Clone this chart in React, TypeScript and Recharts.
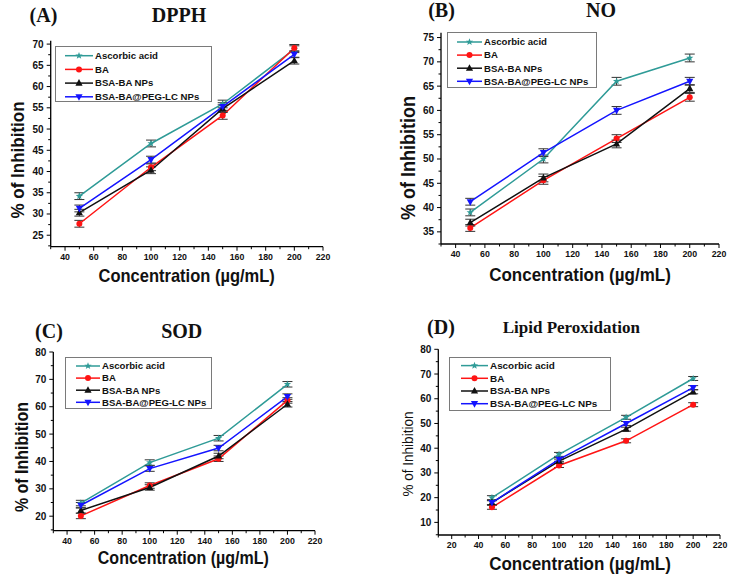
import React from 'react';
import { LineChart, Line, XAxis, YAxis, ErrorBar, Legend } from 'recharts';

// concentrations (µg/mL)
const conc = [50, 100, 150, 200];

// DPPH
const dpphAscorbic = [34.2, 46.6, 55.9, 68.8];
const dpphBA = [27.7, 41.0, 53.2, 69.1];
const dpphBsaBa = [30.3, 40.3, 54.8, 66.1];
const dpphPeg = [31.3, 42.8, 55.3, 67.6];
const dpphErr = [0.8, 0.8, 0.9, 0.8];

// NO
const noAscorbic = [39.0, 50.0, 66.0, 70.8];
const noBA = [35.8, 45.6, 54.2, 62.7];
const noBsaBa = [36.9, 46.1, 53.1, 64.5];
const noPeg = [41.2, 51.3, 60.0, 66.0];
const noErr = [0.7, 0.8, 0.8, 0.8];

// SOD
const sodAscorbic = [24.8, 39.6, 48.5, 68.2];
const sodBA = [20.1, 31.2, 41.0, 62.3];
const sodBsaBa = [22.1, 30.5, 42.0, 60.9];
const sodPeg = [24.0, 37.4, 44.9, 63.7];
const sodErr = [1.0, 1.0, 1.0, 1.0];

// Lipid peroxidation
const lpoAscorbic = [20.0, 37.5, 52.5, 68.2];
const lpoBA = [16.1, 33.0, 43.0, 57.6];
const lpoBsaBa = [18.0, 34.8, 47.7, 62.8];
const lpoPeg = [18.0, 35.5, 50.0, 64.5];
const lpoErr = [0.8, 0.8, 0.8, 0.8];

const seriesNames = ['Ascorbic acid', 'BA', 'BSA-BA NPs', 'BSA-BA@PEG-LC NPs'];
const seriesColors = ['#2f9b97', '#ff1414', '#111111', '#1414ff'];
const seriesShapes = ['star', 'circle', 'triangle', 'triangleDown'];

// axis ticks
const xTicksA = [30, 40, 50, 60, 70, 80, 90, 100, 110, 120, 130, 140, 150, 160, 170, 180, 190, 200, 210, 220];
const xMajorA = [40, 60, 80, 100, 120, 140, 160, 180, 200, 220];
const xTicksD = [10, 20, 30, 40, 50, 60, 70, 80, 90, 100, 110, 120, 130, 140, 150, 160, 170, 180, 190, 200, 210, 220];
const xMajorD = [20, 40, 60, 80, 100, 120, 140, 160, 180, 200, 220];
const yTicksDpph = [22.5, 25, 27.5, 30, 32.5, 35, 37.5, 40, 42.5, 45, 47.5, 50, 52.5, 55, 57.5, 60, 62.5, 65, 67.5, 70];
const yMajorDpph = [25, 30, 35, 40, 45, 50, 55, 60, 65, 70];
const yTicksNo = [32.5, 35, 37.5, 40, 42.5, 45, 47.5, 50, 52.5, 55, 57.5, 60, 62.5, 65, 67.5, 70, 72.5, 75];
const yMajorNo = [35, 40, 45, 50, 55, 60, 65, 70, 75];
const yTicksSod = [15, 20, 25, 30, 35, 40, 45, 50, 55, 60, 65, 70, 75, 80];
const yMajorSod = [20, 30, 40, 50, 60, 70, 80];
const yTicksLpo = [5, 10, 15, 20, 25, 30, 35, 40, 45, 50, 55, 60, 65, 70, 75, 80];
const yMajorLpo = [10, 20, 30, 40, 50, 60, 70, 80];

const SANS = '"Liberation Sans", Arial, sans-serif';
const SERIF = '"Liberation Serif", "Times New Roman", serif';

const buildRows = (vals: number[][], err: number[]) =>
  conc.map((c, i) => ({ conc: c, s0: vals[0][i], s1: vals[1][i], s2: vals[2][i], s3: vals[3][i], err: err[i] }));

function Marker({ shape, cx, cy, color }: { shape: string; cx: number; cy: number; color: string }) {
  if (cx == null || cy == null) return null;
  if (shape === 'circle') return <circle cx={cx} cy={cy} r={3} fill={color} />;
  if (shape === 'triangle')
    return <polygon points={`${cx},${cy - 4} ${cx - 3.6},${cy + 2.6} ${cx + 3.6},${cy + 2.6}`} fill={color} />;
  if (shape === 'triangleDown')
    return <polygon points={`${cx},${cy + 4} ${cx - 3.6},${cy - 2.6} ${cx + 3.6},${cy - 2.6}`} fill={color} />;
  const pts: string[] = [];
  for (let i = 0; i < 10; i++) {
    const r = i % 2 === 0 ? 3.8 : 1.6;
    const a = -Math.PI / 2 + (i * Math.PI) / 5;
    pts.push(`${cx + r * Math.cos(a)},${cy + r * Math.sin(a)}`);
  }
  return <polygon points={pts.join(' ')} fill={color} />;
}

const makeXTick = (majors: number[]) => (p: any) => {
  const v = p.payload.value;
  const major = majors.includes(v);
  return (
    <g>
      <line x1={p.x} x2={p.x} y1={p.y} y2={p.y + (major ? 4 : 2.5)} stroke="#000" strokeWidth={1} />
      {major && (
        <text x={p.x} y={p.y + 13} textAnchor="middle" fontSize={8.8} fontWeight="bold" fontFamily={SANS} fill="#111">
          {v}
        </text>
      )}
    </g>
  );
};

const makeYTick = (majors: number[]) => (p: any) => {
  const v = p.payload.value;
  const major = majors.includes(v);
  return (
    <g>
      <line x1={p.x} x2={p.x - (major ? 4 : 2.5)} y1={p.y} y2={p.y} stroke="#000" strokeWidth={1} />
      {major && (
        <text x={p.x - 7} y={p.y} dy="0.35em" textAnchor="end" fontSize={10} fontWeight="bold" fontFamily={SANS} fill="#111">
          {v}
        </text>
      )}
    </g>
  );
};

type LegendCfg = { x: number; y: number; w: number; h: number; row0: number; gap: number; l0: number; l1: number; tx: number; fs: number };

function LegendBox({ cfg }: { cfg: LegendCfg }) {
  return (
    <svg width={cfg.w} height={cfg.h} style={{ display: 'block' }}>
      <rect x={0.5} y={0.5} width={cfg.w - 1} height={cfg.h - 1} fill="#fff" stroke="#7a7a7a" />
      {seriesNames.map((name, i) => {
        const y = cfg.row0 + i * cfg.gap;
        return (
          <g key={name}>
            <line x1={cfg.l0} x2={cfg.l1} y1={y} y2={y} stroke={seriesColors[i]} strokeWidth={1.5} />
            <Marker shape={seriesShapes[i]} cx={(cfg.l0 + cfg.l1) / 2} cy={y} color={seriesColors[i]} />
            <text x={cfg.tx} y={y} dy="0.35em" fontSize={cfg.fs} fontWeight="bold" fontFamily={SANS} fill="#111">
              {name}
            </text>
          </g>
        );
      })}
    </svg>
  );
}

type PanelProps = {
  left: number;
  top: number;
  height: number;
  margin: { top: number; right: number; bottom: number; left: number };
  rows: any[];
  xDomain: [number, number];
  xTicks: number[];
  xMajor: number[];
  yDomain: [number, number];
  yTicks: number[];
  yMajor: number[];
  legend: LegendCfg;
};

function Panel({ left, top, height, margin, rows, xDomain, xTicks, xMajor, yDomain, yTicks, yMajor, legend }: PanelProps) {
  return (
    <div style={{ position: 'absolute', left, top }}>
      <LineChart width={365} height={height} data={rows} margin={margin}>
        <XAxis
          type="number"
          dataKey="conc"
          domain={xDomain}
          ticks={xTicks}
          interval={0}
          allowDataOverflow
          height={30}
          tickSize={0}
          tickMargin={0}
          tickLine={false}
          axisLine={{ stroke: '#000', strokeWidth: 1.3 }}
          tick={makeXTick(xMajor)}
        />
        <YAxis
          type="number"
          domain={yDomain}
          ticks={yTicks}
          interval={0}
          allowDataOverflow
          width={40}
          tickSize={0}
          tickMargin={0}
          tickLine={false}
          axisLine={{ stroke: '#000', strokeWidth: 1.3 }}
          tick={makeYTick(yMajor)}
        />
        <Legend
          layout="vertical"
          align="center"
          verticalAlign="middle"
          wrapperStyle={{ left: legend.x, top: legend.y, width: legend.w, height: legend.h }}
          content={() => <LegendBox cfg={legend} />}
        />
        {seriesNames.map((name, k) => (
          <Line
            key={name}
            name={name}
            dataKey={`s${k}`}
            stroke={seriesColors[k]}
            strokeWidth={1.5}
            isAnimationActive={false}
            dot={(p: any) => (
              <Marker key={`m${k}-${p.index}`} shape={seriesShapes[k]} cx={p.cx} cy={p.cy} color={seriesColors[k]} />
            )}
            activeDot={false}
          >
            <ErrorBar dataKey="err" width={5} strokeWidth={1} stroke="#333" direction="y" isAnimationActive={false} />
          </Line>
        ))}
      </LineChart>
    </div>
  );
}

const Text = ({ x, y, size, children, serif, bold = true, rotate, stretch = 1 }: any) => (
  <div
    style={{
      position: 'absolute',
      left: x,
      top: y,
      transform: `translate(-50%, -50%)${rotate ? ' rotate(-90deg)' : ''} scaleY(${stretch})`,
      fontFamily: serif ? SERIF : SANS,
      fontWeight: bold ? 'bold' : 'normal',
      fontSize: size,
      lineHeight: 1,
      whiteSpace: 'nowrap',
      color: '#111',
    }}
  >
    {children}
  </div>
);

export default function App() {
  return (
    <div style={{ position: 'absolute', left: 0, top: 0, width: 730, height: 579, background: '#fff', overflow: 'hidden' }}>
      <Panel
        left={0}
        top={0}
        height={290}
        margin={{ top: 40.7, right: 42, bottom: 13.3, left: 10.7 }}
        rows={buildRows([dpphAscorbic, dpphBA, dpphBsaBa, dpphPeg], dpphErr)}
        xDomain={[30, 220]}
        xTicks={xTicksA}
        xMajor={xMajorA}
        yDomain={[22.3, 70.8]}
        yTicks={yTicksDpph}
        yMajor={yMajorDpph}
        legend={{ x: 55, y: 46, w: 157, h: 56, row0: 9.7, gap: 13.7, l0: 10, l1: 38, tx: 40, fs: 9.6 }}
      />
      <Panel
        left={365}
        top={0}
        height={290}
        margin={{ top: 32.7, right: 11, bottom: 16, left: 36 }}
        rows={buildRows([noAscorbic, noBA, noBsaBa, noPeg], noErr)}
        xDomain={[30, 220]}
        xTicks={xTicksA}
        xMajor={xMajorA}
        yDomain={[32.5, 76]}
        yTicks={yTicksNo}
        yMajor={yMajorNo}
        legend={{ x: 81.7, y: 32.3, w: 150, h: 56, row0: 10, gap: 13.1, l0: 10, l1: 35, tx: 37, fs: 9.6 }}
      />
      <Panel
        left={0}
        top={290}
        height={289}
        margin={{ top: 62, right: 50, bottom: 18.3, left: 13.3 }}
        rows={buildRows([sodAscorbic, sodBA, sodBsaBa, sodPeg], sodErr)}
        xDomain={[30, 220]}
        xTicks={xTicksA}
        xMajor={xMajorA}
        yDomain={[14.7, 80]}
        yTicks={yTicksSod}
        yMajor={yMajorSod}
        legend={{ x: 65, y: 66.7, w: 147, h: 52, row0: 9, gap: 12.1, l0: 11, l1: 35, tx: 37, fs: 9.6 }}
      />
      <Panel
        left={365}
        top={290}
        height={289}
        margin={{ top: 59.3, right: 10, bottom: 14, left: 33.3 }}
        rows={buildRows([lpoAscorbic, lpoBA, lpoBsaBa, lpoPeg], lpoErr)}
        xDomain={[10, 220]}
        xTicks={xTicksD}
        xMajor={xMajorD}
        yDomain={[4.9, 80]}
        yTicks={yTicksLpo}
        yMajor={yMajorLpo}
        legend={{ x: 84.3, y: 66.7, w: 162, h: 54, row0: 8.6, gap: 12.7, l0: 12, l1: 39, tx: 41, fs: 9.9 }}
      />

      {/* panel headings */}
      <Text x={43.5} y={15} size={20} serif>(A)</Text>
      <Text x={179} y={15} size={20} serif>DPPH</Text>
      <Text x={441.5} y={10} size={20} serif>(B)</Text>
      <Text x={601} y={10} size={20} serif>NO</Text>
      <Text x={49} y={331} size={20} serif>(C)</Text>
      <Text x={181.7} y={331} size={20} serif>SOD</Text>
      <Text x={441} y={326.7} size={20} serif>(D)</Text>
      <Text x={571.3} y={326.7} size={17} serif>Lipid Peroxidation</Text>

      {/* axis titles */}
      <Text x={18.3} y={160} size={17} rotate stretch={1.12}>% of Inhibition</Text>
      <Text x={186.7} y={276} size={16.5} stretch={1.12}>Concentration (µg/mL)</Text>
      <Text x={408} y={158} size={18} rotate stretch={1.12}>% of Inhibition</Text>
      <Text x={580} y={275} size={17} stretch={1.12}>Concentration (µg/mL)</Text>
      <Text x={21.7} y={456.7} size={16} rotate stretch={1.12}>% of Inhibition</Text>
      <Text x={183.3} y={557.5} size={16} stretch={1.12}>Concentration (µg/mL)</Text>
      <Text x={408} y={454} size={13.5} bold={false} rotate stretch={1.12}>% of Inhibition</Text>
      <Text x={580} y={564} size={17} stretch={1.12}>Concentration (µg/mL)</Text>
    </div>
  );
}
